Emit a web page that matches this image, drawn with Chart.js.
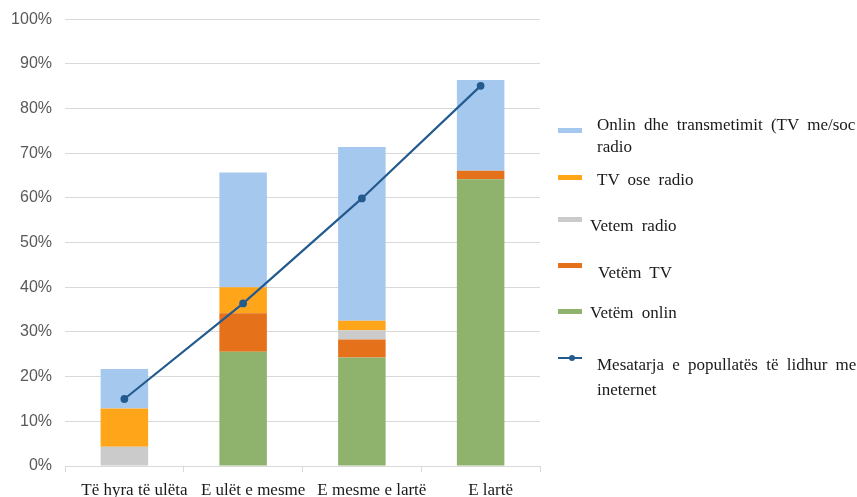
<!DOCTYPE html>
<html lang="sq">
<head>
<meta charset="UTF-8">
<title>Mesatarja e popullatës të lidhur me internet</title>
<script src="https://cdn.jsdelivr.net/npm/chart.js"></script>
<style>
    body {
        margin: 0;
        width: 857px;
        height: 497px;
        overflow: hidden;
        background: #fff;
        position: relative;
    }

    #chart {
        position: absolute;
        left: 0;
        top: 0;
    }

    #legend {
        position: absolute;
        left: 0;
        top: 0;
        font-family: "Liberation Serif", serif;
        font-size: 17px;
        color: #1a1a1a;
    }

    .sw {
        position: absolute;
        width: 24px;
        height: 6px;
    }

    .txt {
        position: absolute;
        white-space: nowrap;
        word-spacing: 4px;
    }
</style>
</head>
<body>
<canvas id="chart" width="857" height="497"></canvas>
<div id="legend"></div>

<script>
    // kategorite
    const categories = ['Të hyra të ulëta', 'E ulët e mesme', 'E mesme e lartë', 'E lartë'];

    // vlerat (%), nga poshte lart ne shtylle
    const vetemOnlin = [0, 25.6, 24.3, 64.2];
    const vetemTV = [0, 8.6, 4.0, 1.9];
    const vetemRadio = [4.3, 0, 2.1, 0];
    const tvOseRadio = [8.6, 5.8, 2.1, 0];
    const onlinDheTransmetim = [8.8, 25.7, 38.9, 20.3];
    const mesatarja = [15.0, 36.4, 59.9, 85.1];

    const yTickValues = [0, 10, 20, 30, 40, 50, 60, 70, 80, 90, 100];

    const labelOnlinDhe = ['Onlin dhe transmetimit (TV me/soc', 'radio'];
    const labelTvOse = ['TV ose radio'];
    const labelRadio = ['Vetem radio'];
    const labelTV = ['Vetëm TV'];
    const labelOnlin = ['Vetëm onlin'];
    const labelMesatarja = ['Mesatarja e popullatës të lidhur me', 'ineternet'];

    const GREEN = '#8fb26d', RED = '#e5711b', GREY = '#cbcbcb', ORANGE = '#fea51a', BLUE = '#a5c8ee', LINE = '#245b8f';

    function barSet(label, data, color) {
        return {
            label: label.join(' '),
            data,
            backgroundColor: color,
            borderWidth: 0,
            stack: 'bars',
            order: 1,
            categoryPercentage: 1,
            barPercentage: 0.4
        };
    }

    const chart = new Chart(document.getElementById('chart').getContext('2d'), {
        type: 'bar',
        data: {
            labels: categories,
            datasets: [
                {
                    type: 'line',
                    label: labelMesatarja.join(' '),
                    data: mesatarja,
                    borderColor: LINE,
                    backgroundColor: LINE,
                    borderWidth: 2.2,
                    pointRadius: 2.8,
                    pointHoverRadius: 2.8,
                    tension: 0,
                    fill: false,
                    stack: 'line',
                    order: 0
                },
                barSet(labelOnlin, vetemOnlin, GREEN),
                barSet(labelTV, vetemTV, RED),
                barSet(labelRadio, vetemRadio, GREY),
                barSet(labelTvOse, tvOseRadio, ORANGE),
                barSet(labelOnlinDhe, onlinDheTransmetim, BLUE)
            ]
        },
        options: {
            responsive: false,
            animation: false,
            layout: { padding: { top: 0, right: 317, left: 0, bottom: 0 } },
            plugins: {
                legend: { display: false },
                tooltip: { enabled: false }
            },
            scales: {
                x: {
                    stacked: true,
                    grid: {
                        offset: true,
                        drawOnChartArea: false,
                        drawTicks: true,
                        tickLength: 6,
                        color: '#d9d9d9'
                    },
                    border: { color: '#d9d9d9' },
                    ticks: {
                        font: { family: 'Liberation Serif', size: 17 },
                        color: '#1a1a1a',
                        padding: 8,
                        labelOffset: 10,
                        maxRotation: 0,
                        autoSkip: false
                    },
                    afterFit: s => { s.height = 31; }
                },
                y: {
                    stacked: true,
                    min: 0,
                    max: 100,
                    afterBuildTicks: s => { s.ticks = yTickValues.map(v => ({ value: v })); },
                    ticks: {
                        callback: v => v + '%',
                        font: { family: 'Liberation Sans', size: 16 },
                        color: '#595959',
                        padding: 13
                    },
                    grid: { color: '#d9d9d9', drawTicks: false },
                    border: { display: false },
                    // zona e grafikut: 65..540 x 19..466
                    afterFit: s => { s.width = 65; s.paddingTop = 19.3; s.paddingBottom = 0; }
                }
            }
        }
    });

    // legjenda ne te djathte (renditja si ne Excel)
    const legendItems = [
        { lines: labelOnlinDhe, color: BLUE, sw: 128, tx: 597, ty: 114, lh: 22 },
        { lines: labelTvOse, color: ORANGE, sw: 175, tx: 597, ty: 169, lh: 22 },
        { lines: labelRadio, color: GREY, sw: 217, tx: 590, ty: 215, lh: 22 },
        { lines: labelTV, color: RED, sw: 263, tx: 598, ty: 262, lh: 22 },
        { lines: labelOnlin, color: GREEN, sw: 309, tx: 590, ty: 302, lh: 22 },
        { lines: labelMesatarja, color: LINE, sw: 357, tx: 597, ty: 352, lh: 25, line: true }
    ];
    const legend = document.getElementById('legend');
    legendItems.forEach(it => {
        if (it.line) {
            const l = document.createElement('div');
            l.className = 'sw';
            l.style.cssText = `left:558px;top:${it.sw}px;height:2px;background:${it.color}`;
            legend.appendChild(l);
            const d = document.createElement('div');
            d.className = 'sw';
            d.style.cssText = `left:569px;top:${it.sw - 2}px;width:6px;height:6px;border-radius:3px;background:${it.color}`;
            legend.appendChild(d);
        } else {
            const s = document.createElement('div');
            s.className = 'sw';
            s.style.cssText = `left:558px;top:${it.sw}px;height:5px;background:${it.color}`;
            legend.appendChild(s);
        }
        const t = document.createElement('div');
        t.className = 'txt';
        t.style.cssText = `left:${it.tx}px;top:${it.ty}px;line-height:${it.lh}px`;
        t.innerHTML = it.lines.join('<br>');
        legend.appendChild(t);
    });
</script>
</body>
</html>
